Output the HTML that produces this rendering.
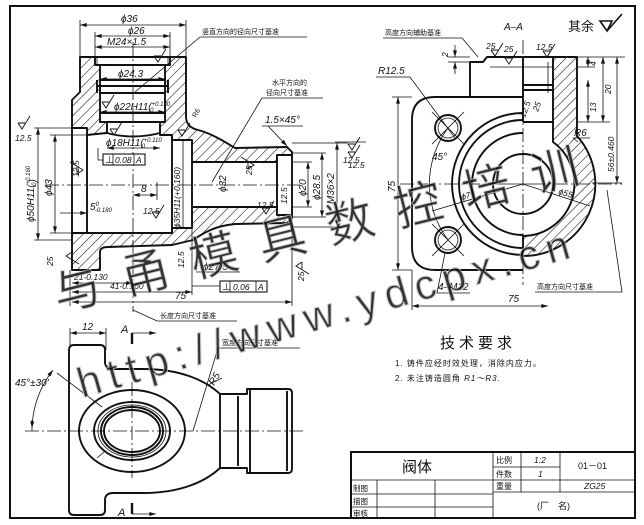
<!DOCTYPE html>
<html><head><meta charset="utf-8"><style>
html,body{margin:0;padding:0;background:#fff;}
svg{display:block}
text{font-family:"Liberation Sans","Noto Sans CJK SC",sans-serif;fill:#111}
.d{font-style:italic;font-size:10px}
.s{font-style:italic;font-size:8.5px}
.c{font-family:"Liberation Sans","Noto Sans CJK SC",sans-serif;font-size:7px}
.k{stroke:#111;stroke-width:1.9;fill:none;stroke-linejoin:round}
.t{stroke:#111;stroke-width:0.8;fill:none}
.m{stroke:#111;stroke-width:0.8;fill:none;stroke-dasharray:14 3 2 3}
.h{stroke:#111;stroke-width:1.9;fill:url(#h);stroke-linejoin:round}
</style></head><body>
<svg width="644" height="525" viewBox="0 0 644 525" xmlns="http://www.w3.org/2000/svg">
<defs>
<pattern id="h" patternUnits="userSpaceOnUse" width="7" height="7" patternTransform="rotate(45)">
<line x1="0" y1="0" x2="0" y2="7" stroke="#111" stroke-width="1.1"/>
</pattern>
<marker id="a" viewBox="0 0 10 6" refX="10" refY="3" markerWidth="7" markerHeight="4" markerUnits="userSpaceOnUse" orient="auto-start-reverse"><path d="M0,0 L10,3 L0,6 Z" fill="#111"/></marker>
<g id="rs"><path d="M-4,-6 L0,0 L8,-13 M-4,-6 H3" stroke="#111" stroke-width="0.9" fill="none"/></g>
</defs>
<rect width="644" height="525" fill="#fff"/>
<rect x="10" y="6" width="625" height="512" fill="none" stroke="#111" stroke-width="2"/>

<!-- ============ MAIN SECTION VIEW ============ -->
<path class="h" d="M80,57 L95,57 L95,65 L100,65 L100,122 L107,122 L107,133 Q96,134 87,135 L87,128 L72,128 L72,100 L80,92 Z"/>
<path class="h" d="M170,57 L186,57 L186,116 C186,124 190,128 198,130 C210,133 222,140 235,148 L287,147 L292,152 L292,155 L277,155 L277,162 L192,162 L192,140 L172,140 L172,135 L160,135 L160,122 L165,122 L165,65 L170,65 Z"/>
<path class="h" d="M72,233 L72,270 L100,270 L100,252 Q100,247 108,247 L172,245 L193,240 C205,232 215,226 235,224 L287,223 L292,218 L292,215 L277,215 L277,207 L192,207 L192,228 L172,228 L172,233 Z"/>
<path class="k" d="M72,128 V233 M87,135 V233 M107,133 Q133,140 160,133 M172,135 V233 M192,162 V207 M277,162 V207 M292,155 V215 M95,57 H170 M100,65 H165 M100,80 H165 M97,86 H168 M100,93 H165 M100,113 H165 M100,122 H165 M97,80 V93 M168,80 V93"/>
<path class="t" d="M97,57 V65 M168,57 V65 M183,140 V228"/>
<path class="m" d="M133,42 V312 M45,185 H300"/>
<path class="t" d="M80,20 V57 M186,20 V57 M95,32 V57 M170,32 V57" />
<path class="t" marker-start="url(#a)" marker-end="url(#a)" d="M80,25 H186"/>
<path class="t" marker-start="url(#a)" marker-end="url(#a)" d="M95,36 H170"/>
<path class="t" marker-start="url(#a)" marker-end="url(#a)" d="M95,47 H170"/>
<text class="d" x="121" y="22">ϕ36</text>
<text class="d" x="128" y="34">ϕ26</text>
<text class="d" x="107" y="45">M24×1.5</text>
<path class="t" marker-start="url(#a)" marker-end="url(#a)" d="M100,79 H165"/>
<text class="d" x="118" y="77">ϕ24.3</text>
<path class="t" marker-start="url(#a)" marker-end="url(#a)" d="M100,112 H165"/>
<text class="d" x="114" y="110">ϕ22H11(<tspan font-size="6" dy="-4">+0.130</tspan><tspan font-size="6" dx="-20" dy="6">0</tspan></text>
<path class="t" marker-start="url(#a)" marker-end="url(#a)" d="M107,148 H160"/>
<text class="d" x="106" y="146">ϕ18H11(<tspan font-size="6" dy="-4">+0.110</tspan><tspan font-size="6" dx="-20" dy="6">0</tspan></text>
<use href="#rs" x="106" y="108"/><use href="#rs" x="114" y="135"/><use href="#rs" x="158" y="62"/><use href="#rs" x="182" y="136"/>
<path class="t" d="M98,148 V160 H103"/>
<rect x="103" y="154" width="42" height="11" fill="#fff" stroke="#111" stroke-width="1.1"/>
<path class="t" d="M113,154 V165 M134,154 V165"/>
<text x="105" y="163" font-size="9">⊥</text><text class="s" x="115" y="163">0.08</text><text class="s" x="136" y="163">A</text>
<path class="t" d="M34,128 H72 M34,240 H72 M50,135 H87 M50,233 H87"/>
<path class="t" marker-start="url(#a)" marker-end="url(#a)" d="M38,128 V240"/>
<path class="t" marker-start="url(#a)" marker-end="url(#a)" d="M55,135 V233"/>
<text class="d" transform="translate(34,222) rotate(-90)">ϕ50H11(<tspan font-size="6" dy="-4">+0.160</tspan><tspan font-size="6" dx="-20" dy="6">0</tspan>)</text>
<text class="d" transform="translate(52,196) rotate(-90)">ϕ43</text>
<use href="#rs" x="22" y="129"/><text class="s" x="15" y="141">12.5</text>
<text class="s" transform="translate(79,177) rotate(-90)">12.5</text><use href="#rs" transform="translate(83,170) rotate(-90)"/>
<path class="t" marker-end="url(#a)" d="M60,213 H87"/>
<text class="d" x="90" y="210">5<tspan font-size="6" dy="-4">0</tspan><tspan font-size="6" dx="-4" dy="6">-0.180</tspan></text>
<path class="t" d="M157,182 V200"/>
<path class="t" marker-start="url(#a)" marker-end="url(#a)" d="M133,195 H157"/>
<text class="d" x="141" y="192">8</text>
<use href="#rs" x="156" y="218"/><text class="s" x="143" y="214">12.5</text>
<text class="s" transform="translate(180,228) rotate(-90)">ϕ35H11(+0.160)</text>
<text class="d" transform="translate(226,192) rotate(-90)">ϕ32</text>
<text class="s" transform="translate(252,175) rotate(-90)">25</text><use href="#rs" transform="translate(254,165) rotate(-90)"/>
<use href="#rs" x="266" y="214"/><text class="s" x="257" y="208">12.5</text>
<text class="s" transform="translate(287,204) rotate(-90)">12.5</text>
<use href="#rs" transform="translate(66,256) rotate(90)"/><text class="s" transform="translate(53,266) rotate(-90)">25</text>
<text class="s" transform="translate(184,268) rotate(-90)">12.5</text>
<use href="#rs" transform="translate(296,266) rotate(90)"/><text class="s" transform="translate(304,281) rotate(-90)">25</text>
<path class="t" d="M70,270 V306 M292,222 V306 M192,228 V295"/>
<path class="t" marker-start="url(#a)" marker-end="url(#a)" d="M72,283 H133"/>
<text class="s" x="74" y="280">21-0.130</text>
<path class="t" marker-start="url(#a)" marker-end="url(#a)" d="M72,292 H192"/>
<text class="s" x="110" y="289">41-0.160</text>
<path class="t" marker-start="url(#a)" marker-end="url(#a)" d="M72,302 H292"/>
<text class="d" x="175" y="299">75</text>
<path class="t" d="M196,272 H240"/>
<text class="d" x="203" y="270">ϕ27.5</text>
<path class="t" d="M192,286 H220"/>
<rect x="220" y="281" width="47" height="11" fill="#fff" stroke="#111" stroke-width="1.1"/>
<path class="t" d="M230,281 V292 M256,281 V292"/>
<text x="222" y="290" font-size="9">⊥</text><text class="s" x="233" y="290">0.06</text><text class="s" x="258" y="290">A</text>
<text class="d" x="265" y="123">1.5×45°</text>
<path class="t" d="M262,126 H303"/>
<path class="t" marker-end="url(#a)" d="M268,126 L287,146"/>
<path class="t" d="M292,143 H348 M292,227 H348 M292,153 H326 M292,217 H326 M292,162 H312 M292,207 H312"/>
<path class="t" marker-start="url(#a)" marker-end="url(#a)" d="M337,143 V227"/>
<path class="t" marker-start="url(#a)" marker-end="url(#a)" d="M322,153 V217"/>
<path class="t" marker-start="url(#a)" marker-end="url(#a)" d="M308,162 V207"/>
<text class="d" transform="translate(334,204) rotate(-90)">M36×2</text>
<text class="d" transform="translate(320,200) rotate(-90)">ϕ28.5</text>
<text class="d" transform="translate(306,196) rotate(-90)">ϕ20</text>
<path class="t" d="M335,142 H366"/>
<use href="#rs" x="352" y="158"/><text class="s" x="348" y="168">12.5</text>
<text class="c" x="202" y="34">竖直方向的径向尺寸基准</text>
<path class="t" d="M307,37 H200 L135,92"/>
<text class="c" x="272" y="85">水平方向的</text>
<text class="c" x="266" y="95">径向尺寸基准</text>
<path class="t" d="M323,98 H262 L212,182"/>
<text class="c" transform="translate(196,118) rotate(-60)">R6</text>

<!-- ============ BOTTOM VIEW ============ -->
<path class="k" d="M105,363 Q106,369 113,369 L143,369 C180,369 205,380 220,394 L247,394 L247,389 L288,389 Q292,389 292,393 L292,469 Q292,473 288,473 L247,473 L247,468 L220,468 C205,482 180,493 143,493 L113,493 Q106,493 105,499 L105,510 Q105,515 100,515 L74,515 Q69,515 69,510 L69,350 Q69,345 74,345 L100,345 Q105,345 105,350 Z"/>
<path class="k" d="M220,394 V468 M238,396 V466 M250,390 V472 M287,391 V471"/>
<ellipse cx="132" cy="431" rx="53" ry="41" class="k"/>
<ellipse cx="132" cy="431" rx="38" ry="29" class="k"/>
<ellipse cx="132" cy="431" rx="34" ry="26" class="t"/>
<ellipse cx="132" cy="431" rx="31" ry="24" class="k"/>
<ellipse cx="132" cy="431" rx="28" ry="21" class="k" stroke-width="2.4"/>
<path class="m" d="M25,431 H305 M132,382 V478"/>
<path class="t" d="M57,373 L102,407 M97,458 L104,452 M32,420 V431"/>
<path class="t" marker-start="url(#a)" marker-end="url(#a)" d="M32,428 A101,101 0 0 1 53,370"/>
<text class="d" x="15" y="386">45°±30'</text>
<path class="t" d="M70,328 V345 M106,328 V350"/>
<path class="t" marker-start="url(#a)" marker-end="url(#a)" d="M70,333 H106"/>
<text class="d" x="82" y="330">12</text>
<text x="121" y="333" font-size="11" font-style="italic">A</text>
<path d="M132,333 V344" stroke="#111" stroke-width="2.4"/>
<path class="t" marker-end="url(#a)" d="M132,333 H156"/>
<text x="118" y="516" font-size="11" font-style="italic">A</text>
<path d="M132,503 V514" stroke="#111" stroke-width="2.4"/>
<path class="t" marker-end="url(#a)" d="M132,514 H156"/>
<text class="c" x="160" y="318">长度方向尺寸基准</text>
<path class="t" d="M237,321 H157 L133,310"/>
<text class="c" x="222" y="345">宽度方向尺寸基准</text>
<path class="t" d="M300,348 H218 L193,431"/>
<text class="d" transform="translate(214,386) rotate(-60)">R5</text>
<path class="t" d="M208,385 L222,378"/>

<!-- ============ RIGHT VIEW A-A ============ -->
<text x="504" y="30" font-size="10" font-style="italic">A–A</text>
<text x="568" y="31" font-size="13" font-family="Noto Serif CJK SC, serif">其余</text>
<path d="M600,21 L607,31 L612,21 Z M607,31 L622,14" stroke="#111" stroke-width="1.6" fill="none"/>
<path class="h" d="M553,57 H577 V136 A72,72 0 0 1 523,256 V236 A52,52 0 0 0 553,142 Z"/>
<path class="k" d="M523,97 L435,97 Q412,97 412,120 L412,247 Q412,270 435,270 L523,270"/>
<path class="k" d="M470,97 V62 H483 L487,57 H553 M523,57 V122 M523,85 H553 M523,90 H553 M523,122 H553"/>
<path class="t" d="M490,67 H553 M548,62 V93"/>
<path class="k" d="M523,113 A71,71 0 0 0 523,255"/>
<path class="k" d="M523,120 A64,64 0 0 0 523,248"/>
<path class="k" d="M523,133 A51,51 0 0 0 523,235"/>
<circle cx="523" cy="184" r="30" class="k"/>
<path class="t" d="M448,128 A93.6,93.6 0 0 0 448,240"/>
<circle cx="448" cy="128" r="13" class="k" stroke-width="2.6"/>
<circle cx="448" cy="128" r="10" class="t"/>
<circle cx="448" cy="240" r="13" class="k" stroke-width="2.6"/>
<circle cx="448" cy="240" r="10" class="t"/>
<path class="t" d="M432,112 L464,144 M464,112 L432,144 M432,224 L464,256 M464,224 L432,256"/>
<path class="m" d="M523,40 V285 M400,184 H622 M500,184 H546"/>
<path class="t" d="M577,57 H625 M577,67 H595 M577,122 H610 M592,183 H622"/>
<path class="t" marker-start="url(#a)" marker-end="url(#a)" d="M588,57 V67"/>
<path class="t" marker-start="url(#a)" marker-end="url(#a)" d="M588,80 V122"/>
<path class="t" marker-start="url(#a)" marker-end="url(#a)" d="M603,57 V122"/>
<path class="t" marker-start="url(#a)" marker-end="url(#a)" d="M617,57 V183"/>
<text class="s" transform="translate(596,66) rotate(-90)">4</text>
<text class="s" transform="translate(611,94) rotate(-90)">20</text>
<text class="s" transform="translate(596,112) rotate(-90)">13</text>
<text class="s" transform="translate(614,172) rotate(-90)">56±0.460</text>
<text class="d" x="574" y="136">R6</text>
<path class="t" d="M573,138 H590 M573,138 L578,142"/>
<path class="t" d="M392,97 H412 M392,270 H412"/>
<path class="t" marker-start="url(#a)" marker-end="url(#a)" d="M398,97 V270"/>
<text class="d" transform="translate(395,192) rotate(-90)">75</text>
<path class="t" d="M412,270 V310"/>
<path class="t" marker-start="url(#a)" marker-end="url(#a)" d="M412,306 H548"/>
<text class="d" x="508" y="302">75</text>
<path class="t" d="M448,57 H470 M448,62 H470"/>
<path class="t" marker-end="url(#a)" d="M455,45 V57"/>
<path class="t" marker-end="url(#a)" d="M455,74 V62"/>
<text class="s" transform="translate(448,57) rotate(-90)">2</text>
<use href="#rs" x="495" y="56"/><text class="s" x="486" y="49">25</text>
<use href="#rs" x="509" y="64"/><text class="s" x="504" y="52">25</text>
<use href="#rs" x="547" y="57"/><text class="s" x="536" y="50">12.5</text>
<text class="s" transform="translate(525,118) rotate(-70)">12.5</text>
<text class="s" transform="translate(538,112) rotate(-70)">25</text>
<text class="d" x="378" y="74">R12.5</text>
<path class="t" d="M376,77 H410 L455,138"/>
<text class="d" x="432" y="160">45°</text>
<path class="t" d="M432,211 L523,184 L590,206"/>
<text class="s" transform="translate(462,200) rotate(-16)">ϕ70</text>
<text class="s" transform="translate(558,194) rotate(16)">ϕ55</text>
<text class="d" x="438" y="290">4–M12</text>
<path class="t" d="M470,293 H437 L445,253"/>
<text class="c" x="537" y="289">高度方向尺寸基准</text>
<path class="t" d="M535,292 H622 L607,190"/>
<text class="c" x="385" y="35">高度方向辅助基准</text>
<path class="t" d="M383,38 H462 L478,57"/>
<use href="#rs" x="352" y="150"/><text class="s" x="343" y="163">12.5</text>

<!-- ============ TECH REQUIREMENTS ============ -->
<text x="440" y="348" font-size="15" letter-spacing="4" font-family="Noto Serif CJK SC, serif">技术要求</text>
<text x="395" y="366" font-size="8" letter-spacing="1">1. 铸件应经时效处理，消除内应力。</text>
<text x="395" y="381" font-size="8" letter-spacing="1">2. 未注铸造圆角 <tspan font-style="italic">R1～R3</tspan>.</text>

<!-- ============ TITLE BLOCK ============ -->
<path d="M351,518 V452 H635" stroke="#111" stroke-width="2" fill="none"/>
<path class="t" stroke-width="1" d="M351,480 H493 M351,494 H493 M351,507 H493 M377,480 V518 M435,480 V518 M493,452 V518 M521,452 V492 M560,452 V492 M493,467 H560 M493,480 H635 M493,492 H635"/>
<text x="402" y="472" font-size="15">阀体</text>
<text x="496" y="463" font-size="8">比例</text><text class="s" x="534" y="463">1:2</text>
<text x="496" y="477" font-size="8">件数</text><text class="s" x="538" y="477">1</text>
<text x="496" y="489" font-size="8">重量</text><text class="s" x="584" y="489">ZG25</text>
<text x="578" y="469" font-size="9">01－01</text>
<text x="537" y="509" font-size="9">(厂　名)</text>
<text x="353" y="491" font-size="7.5">制图</text>
<text x="353" y="504" font-size="7.5">描图</text>
<text x="353" y="516" font-size="7.5">审核</text>

<!-- ============ WATERMARK ============ -->
<g opacity="0.85">
<text transform="translate(58,312) rotate(-14)" font-size="48" textLength="540" lengthAdjust="spacing" fill="#fff" stroke="#c4c4c4" stroke-width="0.9" font-family="Noto Sans CJK SC, sans-serif">与甬模具数控培训</text>
<text transform="translate(82,398) rotate(-16)" font-size="42" textLength="510" lengthAdjust="spacing" fill="#fff" stroke="#bbb" stroke-width="1" font-family="Liberation Sans, sans-serif">http://www.ydcpx.cn</text>
</g>
</svg>
</body></html>
